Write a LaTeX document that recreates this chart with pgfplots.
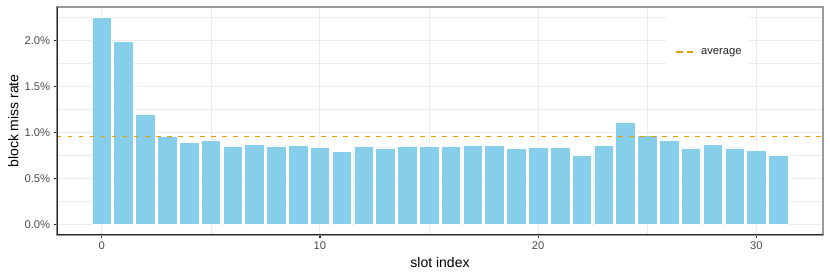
\documentclass[border=0pt]{standalone}
\usepackage{pgfplots}
\pgfplotsset{compat=1.18}
\usepackage{pgfplotstable}
\usepackage{fontspec}
\setmainfont{Liberation Sans}
\definecolor{barfill}{HTML}{87CEEB}
\definecolor{avgcol}{HTML}{E69F00}
\definecolor{gridcol}{HTML}{EBEBEB}
\definecolor{ticktext}{HTML}{4D4D4D}
\pgfplotstableread{
slot rate
0 2.252
1 1.990
2 1.200
3 0.959
4 0.895
5 0.920
6 0.845
7 0.870
8 0.855
9 0.859
10 0.837
11 0.797
12 0.845
13 0.834
14 0.848
15 0.848
16 0.848
17 0.866
18 0.859
19 0.830
20 0.837
21 0.837
22 0.758
23 0.862
24 1.110
25 0.966
26 0.916
27 0.834
28 0.873
29 0.834
30 0.805
31 0.751
}\datatable
\pgfplotstableread{
x y
-2.05 0.952
33.05 0.952
}\avgtable
\begin{document}
\begin{tikzpicture}
\begin{axis}[
  scale only axis,
  width=766pt, height=228pt,
  xmin=-2.05, xmax=33.05,
  ymin=-0.1125, ymax=2.3625,
  xtick={0,10,20,30},
  minor xtick={5,15,25},
  ytick={0,0.5,1,1.5,2},
  yticklabels={0.0\%,0.5\%,1.0\%,1.5\%,2.0\%},
  minor ytick={0.25,0.75,1.25,1.75,2.25},
  grid=both,
  major grid style={draw=gridcol, line width=1pt},
  minor grid style={draw=gridcol, line width=0.6pt},
  tick pos=left,
  tick align=outside,
  major tick length=3.3pt,
  minor tick length=0pt,
  tick style={draw=black!85, line width=1.1pt},
  axis line style={draw=black!40, line width=1.6pt},
  /pgf/number format/assume math mode=true,
  ticklabel style={font=\fontsize{11.2}{13}\selectfont, text=ticktext},
  xlabel={slot index},
  ylabel={block miss rate},
  label style={font=\fontsize{14}{16}\selectfont},
  xlabel style={at={(axis description cs:0.5,-0.1228)}, anchor=center},
  ylabel style={at={(axis description cs:-0.057,0.5)}, anchor=center, rotate=0},
  legend style={at={(axis description cs:0.807,0.803)}, anchor=west, draw=none, fill=none, inner sep=0pt,
    font=\fontsize{11.2}{13}\selectfont, text=black!85},
  legend image code/.code={\draw[avgcol, line width=1.3pt, dash pattern=on 6.5pt off 4.5pt] (0pt,0pt) -- (17pt,0pt); \path[draw=none] (0pt,0pt) -- (23pt,0pt);},
]
\fill[white] (rel axis cs:0.795,0.741) rectangle (rel axis cs:0.904,0.978);
\addplot[ybar, bar width=0.9, fill=barfill, draw=white, line width=0.6pt, forget plot]
  table[x=slot, y=rate] {\datatable};
\addplot[avgcol, line width=1.1pt, dash pattern=on 4.5pt off 6.5pt]
  table[x=x, y=y] {\avgtable};
\addlegendentry{average}
\draw[black!85, line width=1.6pt] (rel axis cs:0,1) -- (rel axis cs:0,0) -- (rel axis cs:1,0);
\end{axis}
\pgfresetboundingbox
\path[use as bounding box] ([shift={(-57pt,-42pt)}]current axis.south west) rectangle ([shift={(7pt,7pt)}]current axis.north east);
\end{tikzpicture}
\end{document}
